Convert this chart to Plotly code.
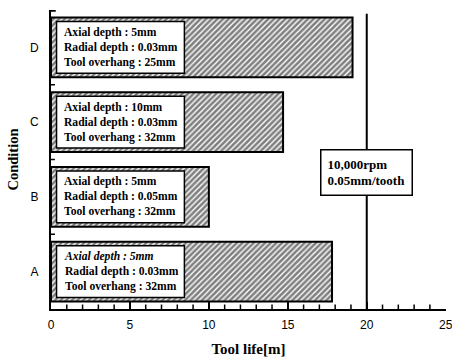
import plotly.graph_objects as go

# Tool life for each cutting condition
conditions = ["A", "B", "C", "D"]
tool_life = [17.8, 10.0, 14.7, 19.1]
condition_notes = [
    "<i>Axial depth : 5mm</i><br>Radial depth : 0.03mm<br>Tool overhang : 32mm",
    "Axial depth : 5mm<br>Radial depth : 0.05mm<br>Tool overhang : 32mm",
    "Axial depth : 10mm<br>Radial depth : 0.03mm<br>Tool overhang : 32mm",
    "Axial depth : 5mm<br>Radial depth : 0.03mm<br>Tool overhang : 25mm",
]
x_ticks = [0, 5, 10, 15, 20, 25]
ref_life = 20
ref_label = "10,000rpm<br>0.05mm/tooth"

positions = list(range(len(conditions)))
serif = "Liberation Serif, Times New Roman, serif"
sans = "Liberation Sans, Arial, sans-serif"

fig = go.Figure()
fig.add_trace(go.Bar(
    x=tool_life,
    y=positions,
    orientation="h",
    width=0.8,
    marker=dict(
        color="white",
        line=dict(color="black", width=2),
        pattern=dict(shape="/", fgcolor="black", bgcolor="white", size=4, solidity=0.65),
    ),
    showlegend=False,
    hoverinfo="skip",
))

shapes = []
annotations = []
for pos, note in zip(positions, condition_notes):
    # white label box sitting inside each bar
    shapes.append(dict(type="rect", xref="x", yref="y", x0=0.35, x1=8.45,
                       y0=pos - 0.345, y1=pos + 0.345,
                       fillcolor="white", line=dict(color="black", width=1.5), layer="above"))
    annotations.append(dict(x=0.7, y=pos, xref="x", yref="y", text="<b>" + note + "</b>",
                            showarrow=False, xanchor="left", yanchor="middle", align="left",
                            font=dict(family=serif, size=11.6, color="black")))

# minor x ticks (every 1 m), pointing into the plot
for v in range(0, 26):
    if v % 5:
        shapes.append(dict(type="line", xref="x", yref="y", x0=v, x1=v, y0=-0.5, y1=-0.44,
                           line=dict(color="black", width=1.5), layer="above"))
# y-axis tick marks at the category boundaries
for b in [0.5, 1.5, 2.5]:
    shapes.append(dict(type="line", xref="x", yref="y", x0=-0.25, x1=0.25, y0=b, y1=b,
                       line=dict(color="black", width=1.5), layer="above"))
shapes.append(dict(type="line", xref="x", yref="y", x0=-0.3, x1=0.3, y0=3.49, y1=3.49,
                   line=dict(color="black", width=2), layer="above"))

# reference line at 20 m with its condition box
shapes.append(dict(type="line", xref="x", yref="y", x0=ref_life, x1=ref_life,
                   y0=-0.5, y1=3.45, line=dict(color="black", width=2), layer="above"))
annotations.append(dict(x=ref_life, y=1.32, xref="x", yref="y", text="<b>" + ref_label + "</b>",
                        showarrow=False, xanchor="center", yanchor="middle", align="left",
                        bgcolor="white", bordercolor="black", borderwidth=1.5, borderpad=6,
                        font=dict(family=serif, size=13, color="black")))

fig.update_layout(
    width=452, height=363,
    margin=dict(l=51, r=6, t=10, b=54),
    paper_bgcolor="white", plot_bgcolor="white",
    shapes=shapes, annotations=annotations,
    bargap=0.2,
)
fig.update_xaxes(
    range=[0, 25.02], tickvals=x_ticks, ticks="inside", ticklen=7, tickwidth=2, tickcolor="black",
    ticklabeloverflow="allow", automargin=False,
    showline=True, linecolor="black", linewidth=2, showgrid=False, zeroline=False,
    tickfont=dict(family=sans, size=12, color="black"), ticklabelstandoff=4,
    title=dict(text="<b>Tool life[m]</b>", font=dict(family=serif, size=15, color="black"), standoff=12),
)
fig.update_yaxes(
    range=[-0.5, 3.5], tickvals=positions, ticktext=conditions, ticks="",
    automargin=False,
    showline=True, linecolor="black", linewidth=2, showgrid=False, zeroline=False,
    tickfont=dict(family=sans, size=12, color="black"), ticklabelstandoff=8,
    title=dict(text="<b>Condition</b>", font=dict(family=serif, size=14.5, color="black"), standoff=8),
)

fig.write_html("out.html")
